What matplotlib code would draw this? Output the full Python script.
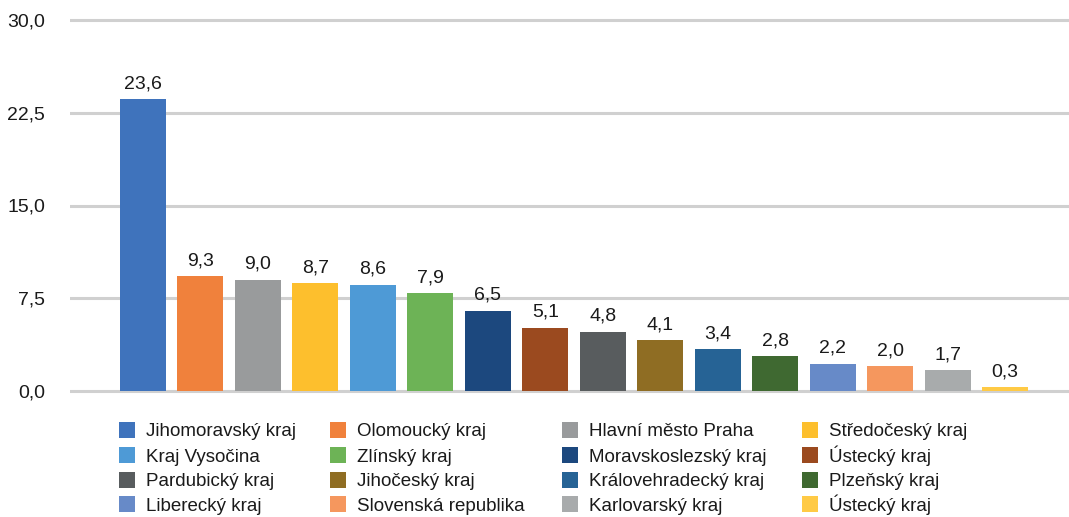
import matplotlib
matplotlib.use("Agg")
import matplotlib.pyplot as plt
from matplotlib.patches import Rectangle
from matplotlib.ticker import FixedLocator, FuncFormatter

regions = ["Jihomoravský kraj", "Olomoucký kraj", "Hlavní město Praha", "Středočeský kraj",
           "Kraj Vysočina", "Zlínský kraj", "Moravskoslezský kraj", "Ústecký kraj",
           "Pardubický kraj", "Jihočeský kraj", "Královehradecký kraj", "Plzeňský kraj",
           "Liberecký kraj", "Slovenská republika", "Karlovarský kraj", "Ústecký kraj"]
values = [23.6, 9.3, 9.0, 8.7, 8.6, 7.9, 6.5, 5.1, 4.8, 4.1, 3.4, 2.8, 2.2, 2.0, 1.7, 0.3]
colors = ["#3F73BC", "#F0813C", "#999B9C", "#FDBF2D",
          "#4E9AD6", "#6DB356", "#1C487E", "#9B4A1F",
          "#585C5E", "#8F6D23", "#266395", "#3F6931",
          "#678AC8", "#F5975E", "#A8ABAC", "#FFCA45"]
yticks = [0.0, 7.5, 15.0, 22.5, 30.0]

plt.rcParams['font.family'] = ['Liberation Sans', 'DejaVu Sans']

W, H = 1069, 517
fig = plt.figure(figsize=(W / 100, H / 100), dpi=100)
ppu = (391 - 20) / 30.0
ymin, ymax = -0.5, 30.5
bottom_px = 391 + 0.5 * ppu
top_px = 20 - 0.5 * ppu
left_px, right_px = 70, 1069
ax = fig.add_axes([left_px / W, 1 - bottom_px / H, (right_px - left_px) / W, (bottom_px - top_px) / H])

x = list(range(len(values)))
bars = ax.bar(x, values, width=0.8, color=colors, zorder=3)
for xi, v in zip(x, values):
    ax.annotate(f"{v:.1f}".replace(".", ","), (xi, v), xytext=(0, 5), textcoords="offset points",
                ha="center", va="bottom", fontsize=14, color="#1a1a1a")

spacing = (1005 - 143) / 15
ax.set_xlim(-(143 - left_px) / spacing, (right_px - 143) / spacing)
ax.set_ylim(ymin, ymax)
ax.yaxis.set_major_locator(FixedLocator(yticks))
ax.yaxis.set_major_formatter(FuncFormatter(lambda v, p: f"{v:.1f}".replace(".", ",")))
for yv in yticks:
    ax.axhline(yv, color="#D0D0D0", lw=2.2, zorder=1)
ax.set_xticks([])
ax.tick_params(axis="y", length=0, pad=18, labelsize=14, labelcolor="#1a1a1a")
for s in ax.spines.values():
    s.set_visible(False)

# legend laid out row-major in a 4x4 grid (pixel layout)
col_x = [119, 330, 562, 802]
row_top = [421.5, 446.5, 471.5, 496]
sq = 16
for i, (lab, col) in enumerate(zip(regions, colors)):
    r, c = divmod(i, 4)
    fig.patches.append(Rectangle((col_x[c] / W, 1 - (row_top[r] + sq) / H), sq / W, sq / H,
                                 transform=fig.transFigure, facecolor=col, edgecolor="none"))
    fig.text((col_x[c] + 27) / W, 1 - (row_top[r] + sq - 1) / H, lab, fontsize=13.5,
             color="#1a1a1a", ha="left", va="baseline")

fig.savefig("out.png", dpi=100)
